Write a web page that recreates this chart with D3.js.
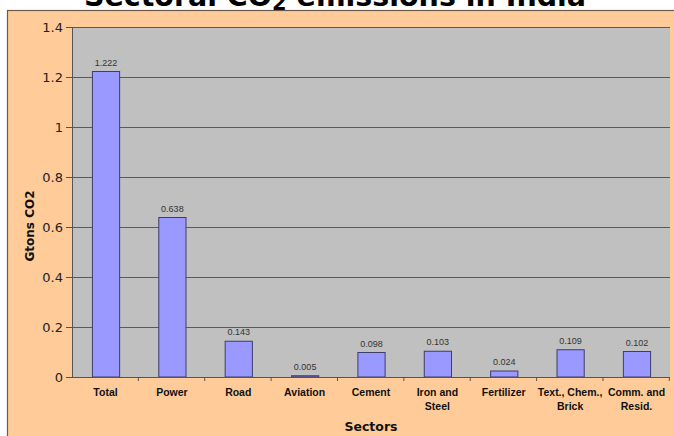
<!DOCTYPE html>
<html>
<head>
<meta charset="utf-8">
<script src="https://cdn.jsdelivr.net/npm/d3@7"></script>
<style>
  body { margin: 0; background: #fff; }
  svg { display: block; }
</style>
</head>
<body>
<div id="chart"></div>
<script>
// data
const sectors = ["Total", "Power", "Road", "Aviation", "Cement", "Iron and|Steel", "Fertilizer", "Text., Chem.,|Brick", "Comm. and|Resid."];
const emissions = [1.222, 0.638, 0.143, 0.005, 0.098, 0.103, 0.024, 0.109, 0.102];
const valueLabels = ["1.222", "0.638", "0.143", "0.005", "0.098", "0.103", "0.024", "0.109", "0.102"];
const yTicks = [0, 0.2, 0.4, 0.6, 0.8, 1, 1.2, 1.4];

const W = 674, H = 436;
const plot = {left: 72, right: 670, top: 27, bottom: 377};

let svg = d3.select("#chart").append("svg")
    .attr("width", W)
    .attr("height", H);

// title, mostly cut off at the top
let title = svg.append("text")
    .attr("x", 335)
    .attr("y", 5.5)
    .attr("text-anchor", "middle")
    .style("font-family", "'DejaVu Sans', Verdana, sans-serif")
    .style("font-weight", "bold")
    .style("font-size", "28.5px")
    .style("fill", "#000");
title.append("tspan").text("Sectoral CO");
title.append("tspan").attr("dy", 4).style("font-size", "21px").text("2");
title.append("tspan").attr("dy", -4).text(" emissions in India");

// orange chart panel
svg.append("rect")
    .attr("x", 7.5)
    .attr("y", 10.5)
    .attr("width", W + 10)
    .attr("height", H)
    .style("fill", "#FFCC99")
    .style("stroke", "#6b5a4c")
    .style("stroke-width", 1.2);

let x = d3.scaleBand()
    .domain(sectors)
    .range([plot.left, plot.right])
    .paddingInner(0.59)
    .paddingOuter(0.3);

let y = d3.scaleLinear()
    .domain([0, 1.4])
    .range([plot.bottom, plot.top]);

// plot background
svg.append("rect")
    .attr("x", plot.left)
    .attr("y", plot.top)
    .attr("width", plot.right - plot.left)
    .attr("height", plot.bottom - plot.top)
    .style("fill", "#C0C0C0");

// gridlines
svg.append("g")
    .selectAll("line")
    .data(yTicks.filter(d => d > 0))
    .enter().append("line")
    .attr("x1", plot.left)
    .attr("x2", plot.right)
    .attr("y1", d => Math.round(y(d)) + 0.5)
    .attr("y2", d => Math.round(y(d)) + 0.5)
    .style("stroke", "#5a5a5a")
    .style("stroke-width", 1);

// bars
svg.append("g")
    .selectAll("rect")
    .data(emissions)
    .enter().append("rect")
    .attr("x", (d, i) => x(sectors[i]) + 0.5)
    .attr("y", d => y(d))
    .attr("width", x.bandwidth())
    .attr("height", d => y(0) - y(d))
    .style("fill", "#9999FF")
    .style("stroke", "#3d3d6b")
    .style("stroke-width", 1);

// value labels
svg.append("g")
    .selectAll("text")
    .data(emissions)
    .enter().append("text")
    .attr("x", (d, i) => x(sectors[i]) + x.bandwidth() / 2 + 0.5)
    .attr("y", d => y(d) - 6)
    .attr("text-anchor", "middle")
    .style("font-family", "'Liberation Sans', Arial, sans-serif")
    .style("font-size", "9px")
    .style("fill", "#333")
    .text((d, i) => valueLabels[i]);

// y axis
let yAxis = d3.axisLeft(y)
    .tickValues(yTicks)
    .tickFormat(d => d3.format("")(+d.toFixed(1)))
    .tickSize(6)
    .tickSizeOuter(0);

let yG = svg.append("g")
    .attr("transform", `translate(${plot.left}, 0)`)
    .call(yAxis);
yG.select(".domain").style("stroke", "#555");
yG.selectAll(".tick line").style("stroke", "#555");
yG.selectAll(".tick text")
    .attr("x", -9)
    .style("font-family", "'DejaVu Sans', Verdana, sans-serif")
    .style("font-size", "13px")
    .style("fill", "#222");

// x axis line and category separators
svg.append("line")
    .attr("x1", plot.left - 6)
    .attr("x2", plot.right)
    .attr("y1", plot.bottom + 0.5)
    .attr("y2", plot.bottom + 0.5)
    .style("stroke", "#555");

let step = x.step();
svg.append("g")
    .selectAll("line")
    .data(sectors)
    .enter().append("line")
    .attr("x1", (d, i) => x(d) - step * 0.3 + step)
    .attr("x2", (d, i) => x(d) - step * 0.3 + step)
    .attr("y1", plot.bottom)
    .attr("y2", plot.bottom + 4)
    .style("stroke", "#555");

// category labels
let cats = svg.append("g")
    .selectAll("text")
    .data(sectors)
    .enter().append("text")
    .attr("x", d => x(d) + x.bandwidth() / 2)
    .attr("y", 396)
    .attr("text-anchor", "middle")
    .style("font-family", "'Liberation Sans Narrow', 'Liberation Sans', Arial, sans-serif")
    .style("font-weight", "bold")
    .style("font-size", "10.5px")
    .style("fill", "#111");
cats.selectAll("tspan")
    .data(d => d.split("|").map(t => ({t: t, cx: x(d) + x.bandwidth() / 2})))
    .enter().append("tspan")
    .attr("x", d => d.cx)
    .attr("dy", (d, i) => i === 0 ? 0 : 14)
    .text(d => d.t);

// axis titles
svg.append("text")
    .attr("x", (plot.left + plot.right) / 2)
    .attr("y", 431)
    .attr("text-anchor", "middle")
    .style("font-family", "'DejaVu Sans', Verdana, sans-serif")
    .style("font-weight", "bold")
    .style("font-size", "12.5px")
    .style("fill", "#111")
    .text("Sectors");

svg.append("text")
    .attr("transform", `translate(34, ${(plot.top + plot.bottom) / 2 + 24}) rotate(-90)`)
    .attr("text-anchor", "middle")
    .style("font-family", "'DejaVu Sans', Verdana, sans-serif")
    .style("font-weight", "bold")
    .style("font-size", "12px")
    .style("fill", "#111")
    .text("Gtons CO2");
</script>
</body>
</html>
